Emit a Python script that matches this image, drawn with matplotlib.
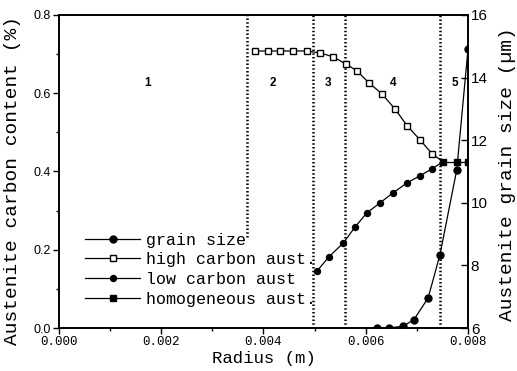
import matplotlib
matplotlib.use("Agg")
import matplotlib.pyplot as plt
from matplotlib.lines import Line2D

# carbon content of the high-carbon austenite (%)
hc_r = [0.00383, 0.00409, 0.00432, 0.00458, 0.00485, 0.00511, 0.00536, 0.00561,
        0.00583, 0.00606, 0.00632, 0.00657, 0.00681, 0.00706, 0.00730]
hc_c = [0.708, 0.708, 0.708, 0.708, 0.708, 0.703, 0.693, 0.675,
        0.657, 0.627, 0.598, 0.560, 0.517, 0.481, 0.445]

# carbon content of the low-carbon austenite (%)
lc_r = [0.00505, 0.00528, 0.00556, 0.00579, 0.00602, 0.00628, 0.00653, 0.00681, 0.00706, 0.00730]
lc_c = [0.146, 0.182, 0.217, 0.258, 0.294, 0.320, 0.345, 0.371, 0.389, 0.407]

# homogeneous austenite
hom_r = [0.00751, 0.00778, 0.00800]
hom_c = [0.425, 0.425, 0.425]

# austenite grain size (um), right axis
gs_r = [0.00622, 0.00645, 0.00673, 0.00694, 0.00722, 0.00745, 0.00778, 0.00800]
gs_d = [6.0, 6.0, 6.06, 6.26, 6.96, 8.33, 11.05, 14.9]

# region borders and region numbers
border_r = [0.00368, 0.00497, 0.00560, 0.00745]
border_bottom = [0.233, 0.0, 0.0, 0.0]
region_r = [0.00174, 0.00419, 0.00526, 0.00653, 0.00775]
region_txt = ["1", "2", "3", "4", "5"]

mono = "Liberation Mono"
sans = "Liberation Sans"

fig = plt.figure(figsize=(5.17, 3.71), dpi=100)
ax = fig.add_axes([0.1141, 0.1159, 0.7911, 0.8437])
ax2 = ax.twinx()

# region borders
for xb, yb in zip(border_r, border_bottom):
    ax.plot([xb, xb], [yb, 0.8], color="black", lw=1.8, ls=(0, (0.6, 0.9)), zorder=1)
for xr, t in zip(region_r, region_txt):
    ax.text(xr, 0.625, t, ha="center", va="center", fontsize=8.5,
            fontweight="bold", family=sans)

# the two carbon curves join the first homogeneous point
ax.plot(hc_r + hom_r[:1], hc_c + hom_c[:1], color="black", lw=0.9,
        marker="s", ms=4.2, mfc="white", mec="black", mew=1.0,
        markevery=list(range(len(hc_r))), zorder=3)
ax.plot(lc_r + hom_r[:1], lc_c + hom_c[:1], color="black", lw=0.9,
        marker="o", ms=4.3, mfc="black", mec="black",
        markevery=list(range(len(lc_r))), zorder=3)
ax.plot(hom_r, hom_c, color="black", lw=0.9, marker="s", ms=4.8,
        mfc="black", mec="black", zorder=3)

ax2.plot(gs_r, gs_d, color="black", lw=0.9, marker="o", ms=5,
         mfc="black", mec="black", zorder=3)

ax.set_xlim(0, 0.008)
ax.set_ylim(0, 0.8)
ax2.set_ylim(6, 16)

ax.set_xticks([0, 0.002, 0.004, 0.006, 0.008])
ax.set_xticks([0.001, 0.003, 0.005, 0.007], minor=True)
ax.set_xticklabels(["0.000", "0.002", "0.004", "0.006", "0.008"],
                   family=mono, fontsize=9)
ax.set_yticks([0, 0.2, 0.4, 0.6, 0.8])
ax.set_yticks([0.1, 0.3, 0.5, 0.7], minor=True)
ax.set_yticklabels(["0.0", "0.2", "0.4", "0.6", "0.8"], family=sans, fontsize=9)
ax.tick_params(which="major", direction="out", length=4, width=1, pad=2)
ax.tick_params(which="minor", direction="out", length=2.5, width=1)
ax.tick_params(axis="y", which="both", right=False)

ax2.set_yticks([6, 8, 10, 12, 14, 16])
ax2.set_yticklabels(["6", "8", "10", "12", "14", "16"], family=sans, fontsize=11)
ax2.tick_params(direction="in", length=5, width=1, pad=2)

for a in (ax, ax2):
    for s in a.spines.values():
        s.set_linewidth(1.2)

ax.set_xlabel("Radius (m)", family=mono, fontsize=12.5, labelpad=2)
ax.set_ylabel("Austenite carbon content (%)", family=mono, fontsize=14)
ax.yaxis.set_label_coords(-0.092, 0.47)
ax2.set_ylabel("Austenite grain size (\u00b5m)", family=mono, fontsize=14)
ax2.yaxis.set_label_coords(1.077, 0.49)

handles = [
    Line2D([], [], color="black", lw=0.9, marker="o", ms=5, mfc="black"),
    Line2D([], [], color="black", lw=0.9, marker="s", ms=4.2, mfc="white", mew=1.0),
    Line2D([], [], color="black", lw=0.9, marker="o", ms=4.3, mfc="black"),
    Line2D([], [], color="black", lw=0.9, marker="s", ms=4.8, mfc="black"),
]
labels = ["grain size", "high carbon aust.", "low carbon aust", "homogeneous aust."]
leg = ax2.legend(handles, labels, loc="upper left", bbox_to_anchor=(0.064, 0.305),
                 frameon=False, borderpad=0, borderaxespad=0, handlelength=3.3,
                 handletextpad=0.35, labelspacing=0.28,
                 prop={"family": mono, "size": 12})

fig.savefig("out.png", dpi=100)
